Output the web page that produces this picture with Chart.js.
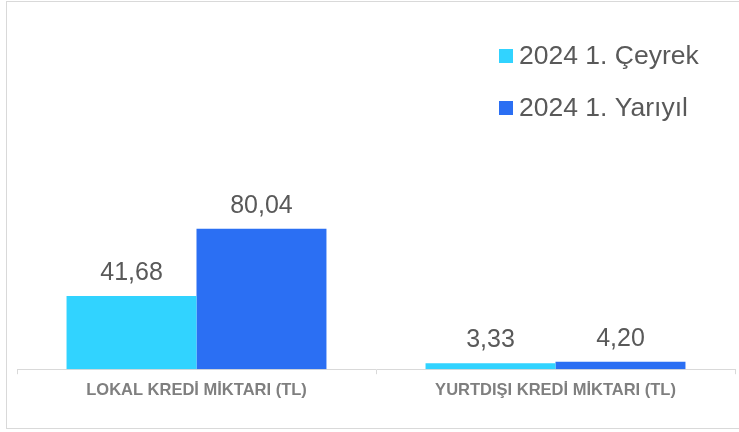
<!DOCTYPE html>
<html>
<head>
<meta charset="utf-8">
<script src="https://cdn.jsdelivr.net/npm/chart.js@4.4.1/dist/chart.umd.min.js"></script>
<style>
  html, body { margin: 0; padding: 0; background: #fff; overflow: hidden; }
  #wrap { position: relative; width: 739px; height: 432px; }
  #frame { position: absolute; left: 6px; top: 1px; width: 760px; height: 428px; border: 1px solid #d9d9d9; box-sizing: border-box; }
  #chart { position: absolute; left: 0; top: 0; }
</style>
</head>
<body>
<div id="wrap">
  <div id="frame"></div>
  <canvas id="chart" width="739" height="432"></canvas>
</div>
<script>
// chart data
const categories = ['LOKAL KREDİ MİKTARI (TL)', 'YURTDIŞI KREDİ MİKTARI (TL)'];
const seriesNames = ['2024 1. Çeyrek', '2024 1. Yarıyıl'];
const quarterValues = [41.68, 3.33];
const halfYearValues = [80.04, 4.20];
const seriesColors = ['#31D3FF', '#2B6FF3'];

const FONT = '"Liberation Sans", Arial, sans-serif';

// value labels above each bar, comma as decimal sign
const valueLabels = {
    id: 'valueLabels',
    afterDatasetsDraw(chart) {
        const ctx = chart.ctx;
        ctx.save();
        ctx.font = '25px ' + FONT;
        ctx.fillStyle = '#595959';
        ctx.textAlign = 'center';
        ctx.textBaseline = 'alphabetic';
        chart.data.datasets.forEach((ds, i) => {
            chart.getDatasetMeta(i).data.forEach((bar, j) => {
                const txt = ds.data[j].toFixed(2).replace('.', ',');
                ctx.fillText(txt, bar.x, bar.y - 16);
            });
        });
        ctx.restore();
    }
};

// legend drawn as a vertical list in the top right
const cornerLegend = {
    id: 'cornerLegend',
    afterDraw(chart) {
        const ctx = chart.ctx;
        ctx.save();
        ctx.font = '26.5px ' + FONT;
        ctx.textBaseline = 'middle';
        ctx.textAlign = 'left';
        chart.data.datasets.forEach((ds, i) => {
            const y = 56 + i * 52;
            ctx.fillStyle = ds.backgroundColor;
            ctx.fillRect(499, y - 7, 14, 14);
            ctx.fillStyle = '#595959';
            ctx.fillText(ds.label, 519, y + 1);
        });
        ctx.restore();
    }
};

const ctx = document.getElementById('chart').getContext('2d');
new Chart(ctx, {
    type: 'bar',
    data: {
        labels: categories,
        datasets: [
            { label: seriesNames[0], data: quarterValues, backgroundColor: seriesColors[0] },
            { label: seriesNames[1], data: halfYearValues, backgroundColor: seriesColors[1] }
        ]
    },
    options: {
        responsive: false,
        animation: false,
        layout: { padding: { top: 18, left: 17, right: 4, bottom: 26 } },
        datasets: {
            bar: { categoryPercentage: 0.724, barPercentage: 1.0 }
        },
        scales: {
            x: {
                grid: {
                    offset: true,
                    drawOnChartArea: false,
                    drawTicks: true,
                    tickLength: 5,
                    color: '#d9d9d9'
                },
                border: { display: true, color: '#d9d9d9', width: 1 },
                ticks: {
                    color: '#7f7f7f',
                    padding: 6,
                    font: { family: FONT, size: 16.5, weight: 'bold' }
                }
            },
            y: {
                display: false,
                min: 0,
                max: 200
            }
        },
        plugins: {
            legend: { display: false },
            tooltip: { enabled: false }
        }
    },
    plugins: [valueLabels, cornerLegend]
});
</script>
</body>
</html>
